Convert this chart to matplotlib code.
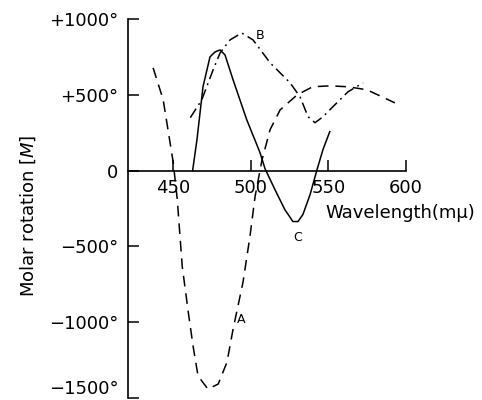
import matplotlib
matplotlib.use("Agg")
import matplotlib.pyplot as plt
from matplotlib.ticker import FixedLocator, FixedFormatter

# Curve A (dashed)
wl_a = [437, 443.5, 450, 452.6, 455.8, 459.7, 462.8, 466, 472.4, 479, 484.7,
        488.6, 495, 499.5, 502.8, 507.3, 512.5, 519, 530, 540, 551, 562.8, 575, 593]
rot_a = [678, 467, 53, -191, -632, -934, -1158, -1355, -1441, -1408, -1263,
         -1046, -737, -434, -171, 72, 270, 401, 500, 553, 559, 553, 533, 447]

# Curve B (dash-dot)
wl_b = [461, 468.4, 475.7, 480.2, 486.6, 494.2, 501.5, 512.5, 525.4, 531.8,
        537, 541.5, 546.6, 553, 562.8, 572.5]
rot_b = [349, 467, 664, 776, 862, 908, 862, 711, 579, 487,
         355, 316, 355, 421, 520, 579]

# Curve C (solid)
wl_c = [462.5, 465.3, 469.2, 473.7, 477, 480.2, 483.4, 488.6, 497.4, 506, 509.2,
        515.6, 522, 527.2, 530.5, 533.7, 538.3, 542.8, 546.6, 551]
rot_c = [0, 204, 553, 750, 783, 796, 763, 599, 336, 118, 13,
         -125, -257, -336, -336, -289, -158, 7, 138, 257]

x_ticks = [450, 500, 550, 600]
x_tick_labels = ["450", "500", "550", "600"]
y_ticks = [-1500, -1000, -500, 0, 500, 1000]
y_tick_labels = ["\u22121500\u00b0", "\u22121000\u00b0", "\u2212500\u00b0", "0", "+500\u00b0", "+1000\u00b0"]

fig = plt.figure(figsize=(4.82, 4.00), dpi=100)
L, R = 128 / 482, 405.7 / 482
B, T = 1 - 398 / 400, 1 - 19 / 400
ax = fig.add_axes([L, B, R - L, T - B])
ax.set_xlim(420.8, 600)
ax.set_ylim(-1500, 1000)

lw = 1.1
ax.plot(wl_a, rot_a, color="black", lw=lw, linestyle=(0, (7, 4.5)))
ax.plot(wl_b, rot_b, color="black", lw=lw, linestyle=(0, (7, 3, 1.2, 3)))
ax.plot(wl_c, rot_c, color="black", lw=lw, linestyle="-")

ax.text(491, -980, "A", fontsize=9, ha="left", va="center")
ax.text(503, 890, "B", fontsize=9, ha="left", va="center")
ax.text(530, -400, "C", fontsize=9, ha="center", va="top")

for s in ["top", "right"]:
    ax.spines[s].set_visible(False)
ax.spines["bottom"].set_position(("data", 0))
ax.spines["left"].set_linewidth(1.2)
ax.spines["bottom"].set_linewidth(1.2)

ax.xaxis.set_major_locator(FixedLocator(x_ticks))
ax.xaxis.set_major_formatter(FixedFormatter(x_tick_labels))
ax.yaxis.set_major_locator(FixedLocator(y_ticks))
ax.yaxis.set_major_formatter(FixedFormatter(y_tick_labels))
ax.tick_params(axis="x", direction="in", length=8, width=1.1, pad=6, labelsize=13)
ax.tick_params(axis="y", direction="in", length=8, width=1.1, pad=7, labelsize=13)

# hide the 450 tick mark
for t in ax.xaxis.get_major_ticks():
    if t.get_loc() == 450:
        t.tick1line.set_visible(False)

for lab in ax.get_yticklabels():
    if lab.get_text().startswith("\u22121500"):
        lab.set_va("bottom")

ax.set_xlabel("Wavelength(m\u03bc)", fontsize=13)
ax.xaxis.set_label_coords(0.98, 0.488)
ax.xaxis.label.set_va("center")
ax.set_ylabel("Molar rotation [$M$]", fontsize=13, labelpad=0)
ax.yaxis.set_label_coords(-0.36, 0.48)
ax.yaxis.label.set_va("center")

fig.savefig("out.png", dpi=100)
